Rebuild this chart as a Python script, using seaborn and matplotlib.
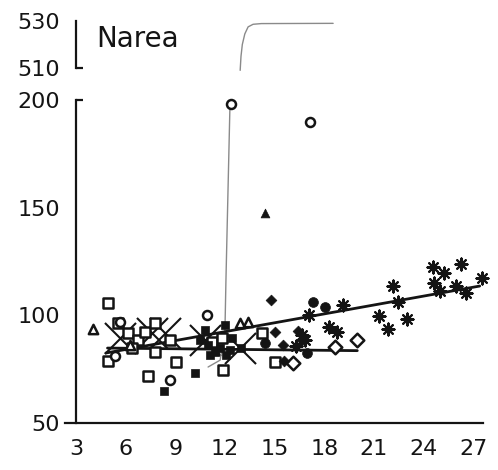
import matplotlib
matplotlib.use("Agg")
import matplotlib.pyplot as plt
import seaborn as sns
import numpy as np

sns.set_theme(style="white")
plt.rcParams['font.family'] = ['DejaVu Sans']

# ---- data ----
open_sq_x = [4.93, 4.93, 7.35, 9.05, 11.89, 15.03, 14.25, 5.54, 6.14, 6.75, 7.17, 6.39, 7.78, 8.68, 11.22, 11.83, 7.78]
open_sq_y = [105.7, 78.8, 71.8, 78.3, 74.6, 78.3, 91.8, 96.4, 91.8, 88.5, 92.2, 84.8, 96.4, 88.5, 87.6, 89.5, 83.0]

open_circ_x = [12.37, 17.15, 10.92, 8.68, 5.36, 5.66]
open_circ_y = [198.1, 189.7, 100.1, 70.0, 81.1, 96.9]

open_tri_x = [4.03, 12.92, 13.40, 6.26]
open_tri_y = [93.6, 96.4, 96.9, 86.2]

fill_sq_x = [8.32, 10.19, 12.01, 10.80, 10.98, 11.40, 10.50, 11.71, 12.31, 12.43, 12.07, 11.10, 13.0]
fill_sq_y = [64.9, 73.2, 95.5, 93.2, 86.2, 83.0, 88.5, 84.8, 83.9, 89.5, 81.6, 81.6, 84.8]

fill_circ_x = [17.33, 18.05, 14.43, 16.97]
fill_circ_y = [106.2, 103.9, 87.1, 82.5]

fill_dia_x = [14.79, 15.03, 15.52, 16.42, 16.66, 15.58]
fill_dia_y = [107.1, 92.2, 86.2, 92.7, 88.5, 78.8]

fill_tri_x = [14.43]
fill_tri_y = [147.5]

open_dia_x = [16.12, 18.66, 19.99]
open_dia_y = [77.9, 85.3, 88.5]

star_x = [19.14, 22.17, 22.47, 21.32, 21.86, 23.01, 24.58, 25.25, 26.28, 24.64, 25.01, 25.97, 26.58, 27.55, 17.09, 18.30, 18.78, 16.66, 16.85, 16.30]
star_y = [104.8, 113.6, 106.2, 99.7, 93.6, 98.3, 122.4, 119.6, 123.8, 115.0, 111.3, 113.6, 110.4, 117.3, 100.1, 94.6, 92.2, 90.9, 88.5, 85.7]

bigx_x = [5.66, 7.59, 8.38, 10.80, 12.92]
bigx_y = [89.5, 91.8, 91.8, 88.5, 84.8]

reg1_x = [4.8, 27.4]
reg1_y = [82.5, 113.6]
reg2_x = [4.9, 20.0]
reg2_y = [84.8, 83.6]

curve_lo_x = [10.98, 11.71, 12.0, 12.06, 12.3]
curve_lo_y = [76.0, 79.2, 93.2, 116.4, 196.7]
curve_hi_x = [12.92, 12.97, 13.05, 13.2, 13.4, 13.7, 14.2, 18.54]
curve_hi_y = [509.0, 515.0, 520.0, 524.5, 527.5, 528.6, 528.9, 529.0]

xticks = [3, 6, 9, 12, 15, 18, 21, 24, 27]
yticks_lo = [50, 100, 150, 200]
yticks_hi = [510, 530]

# ---- figure ----
W, H = 498, 470
fig = plt.figure(figsize=(W / 100, H / 100), dpi=100)
fig.patch.set_facecolor("white")

L, R = 65 / W, 483 / W
ax = fig.add_axes([L, 1 - 423 / H, R - L, (423 - 100) / H])
axt = fig.add_axes([L, 1 - 68 / H, R - L, (68 - 21) / H])

XL = (2.33, 27.6)
ink = "#141414"
lw_ax = 1.6

for a in (ax, axt):
    a.set_facecolor("none")
    a.set_xlim(*XL)
    for s in ("top", "right"):
        a.spines[s].set_visible(False)
    a.spines["left"].set_position(("data", 3))
    a.spines["left"].set_linewidth(lw_ax)
    a.spines["left"].set_color(ink)
    a.tick_params(axis="both", which="major", labelsize=16, length=7.5, width=lw_ax,
                  color=ink, labelcolor=ink, direction="out", pad=4)
    a.grid(False)

ax.set_ylim(50, 200)
ax.spines["bottom"].set_linewidth(lw_ax)
ax.spines["bottom"].set_color(ink)
ax.set_xticks(xticks)
ax.set_xticklabels([str(t) for t in xticks])
ax.set_yticks(yticks_lo)
ax.set_yticklabels([str(t) for t in yticks_lo])
ax.spines["left"].set_bounds(50, 200)

axt.set_ylim(510, 530)
axt.spines["bottom"].set_visible(False)
axt.set_xticks([])
axt.set_yticks(yticks_hi)
axt.set_yticklabels([str(t) for t in yticks_hi])

# inward break marks at 200 and 510
dx = 7 / 16.54
ax.hlines(200, 3, 3 + dx, color=ink, lw=lw_ax, clip_on=False)
axt.hlines(510, 3, 3 + dx, color=ink, lw=lw_ax, clip_on=False)

# curve
sns.lineplot(x=curve_lo_x, y=curve_lo_y, ax=ax, color="#8a8a8a", lw=1.0, sort=False, estimator=None)
sns.lineplot(x=curve_hi_x, y=curve_hi_y, ax=axt, color="#8a8a8a", lw=1.0, sort=False, estimator=None)
for l in axt.lines:
    l.set_clip_on(False)
for l in ax.lines:
    l.set_clip_on(False)

# regression lines
sns.lineplot(x=reg1_x, y=reg1_y, ax=ax, color=ink, lw=2.0, estimator=None)
sns.lineplot(x=reg2_x, y=reg2_y, ax=ax, color=ink, lw=2.0, estimator=None)

# big X markers
sns.scatterplot(x=bigx_x, y=bigx_y, ax=ax, marker="x", s=500, color=ink, linewidth=1.5, clip_on=False)

# markers
def openm(x, y, m, s):
    sns.scatterplot(x=x, y=y, ax=ax, marker=m, s=s, facecolor="white", edgecolor=ink,
                    linewidth=1.8, clip_on=False, zorder=3)

def fillm(x, y, m, s, lw=0.5):
    sns.scatterplot(x=x, y=y, ax=ax, marker=m, s=s, color=ink, edgecolor=ink,
                    linewidth=lw, clip_on=False, zorder=3)

openm(open_sq_x, open_sq_y, "s", 45)
openm(open_circ_x, open_circ_y, "o", 42)
openm(open_tri_x, open_tri_y, "^", 45)
openm(open_dia_x, open_dia_y, "D", 48)
fillm(fill_sq_x, fill_sq_y, "s", 40)
fillm(fill_circ_x, fill_circ_y, "o", 50)
fillm(fill_dia_x, fill_dia_y, "D", 30)
fillm(fill_tri_x, fill_tri_y, "^", 40)
fillm(star_x, star_y, (8, 1, 0), 40, lw=0.8)
sns.scatterplot(x=star_x, y=star_y, ax=ax, marker=(8, 2, 0), s=75, color=ink, linewidth=1.5,
                clip_on=False, zorder=3)

ax.set_xlabel("")
ax.set_ylabel("")
axt.set_xlabel("")
axt.set_ylabel("")

fig.text(96 / W, 1 - 47 / H, "Narea", fontsize=20, color=ink, ha="left", va="baseline")

fig.savefig("out.png", dpi=100, facecolor="white")
